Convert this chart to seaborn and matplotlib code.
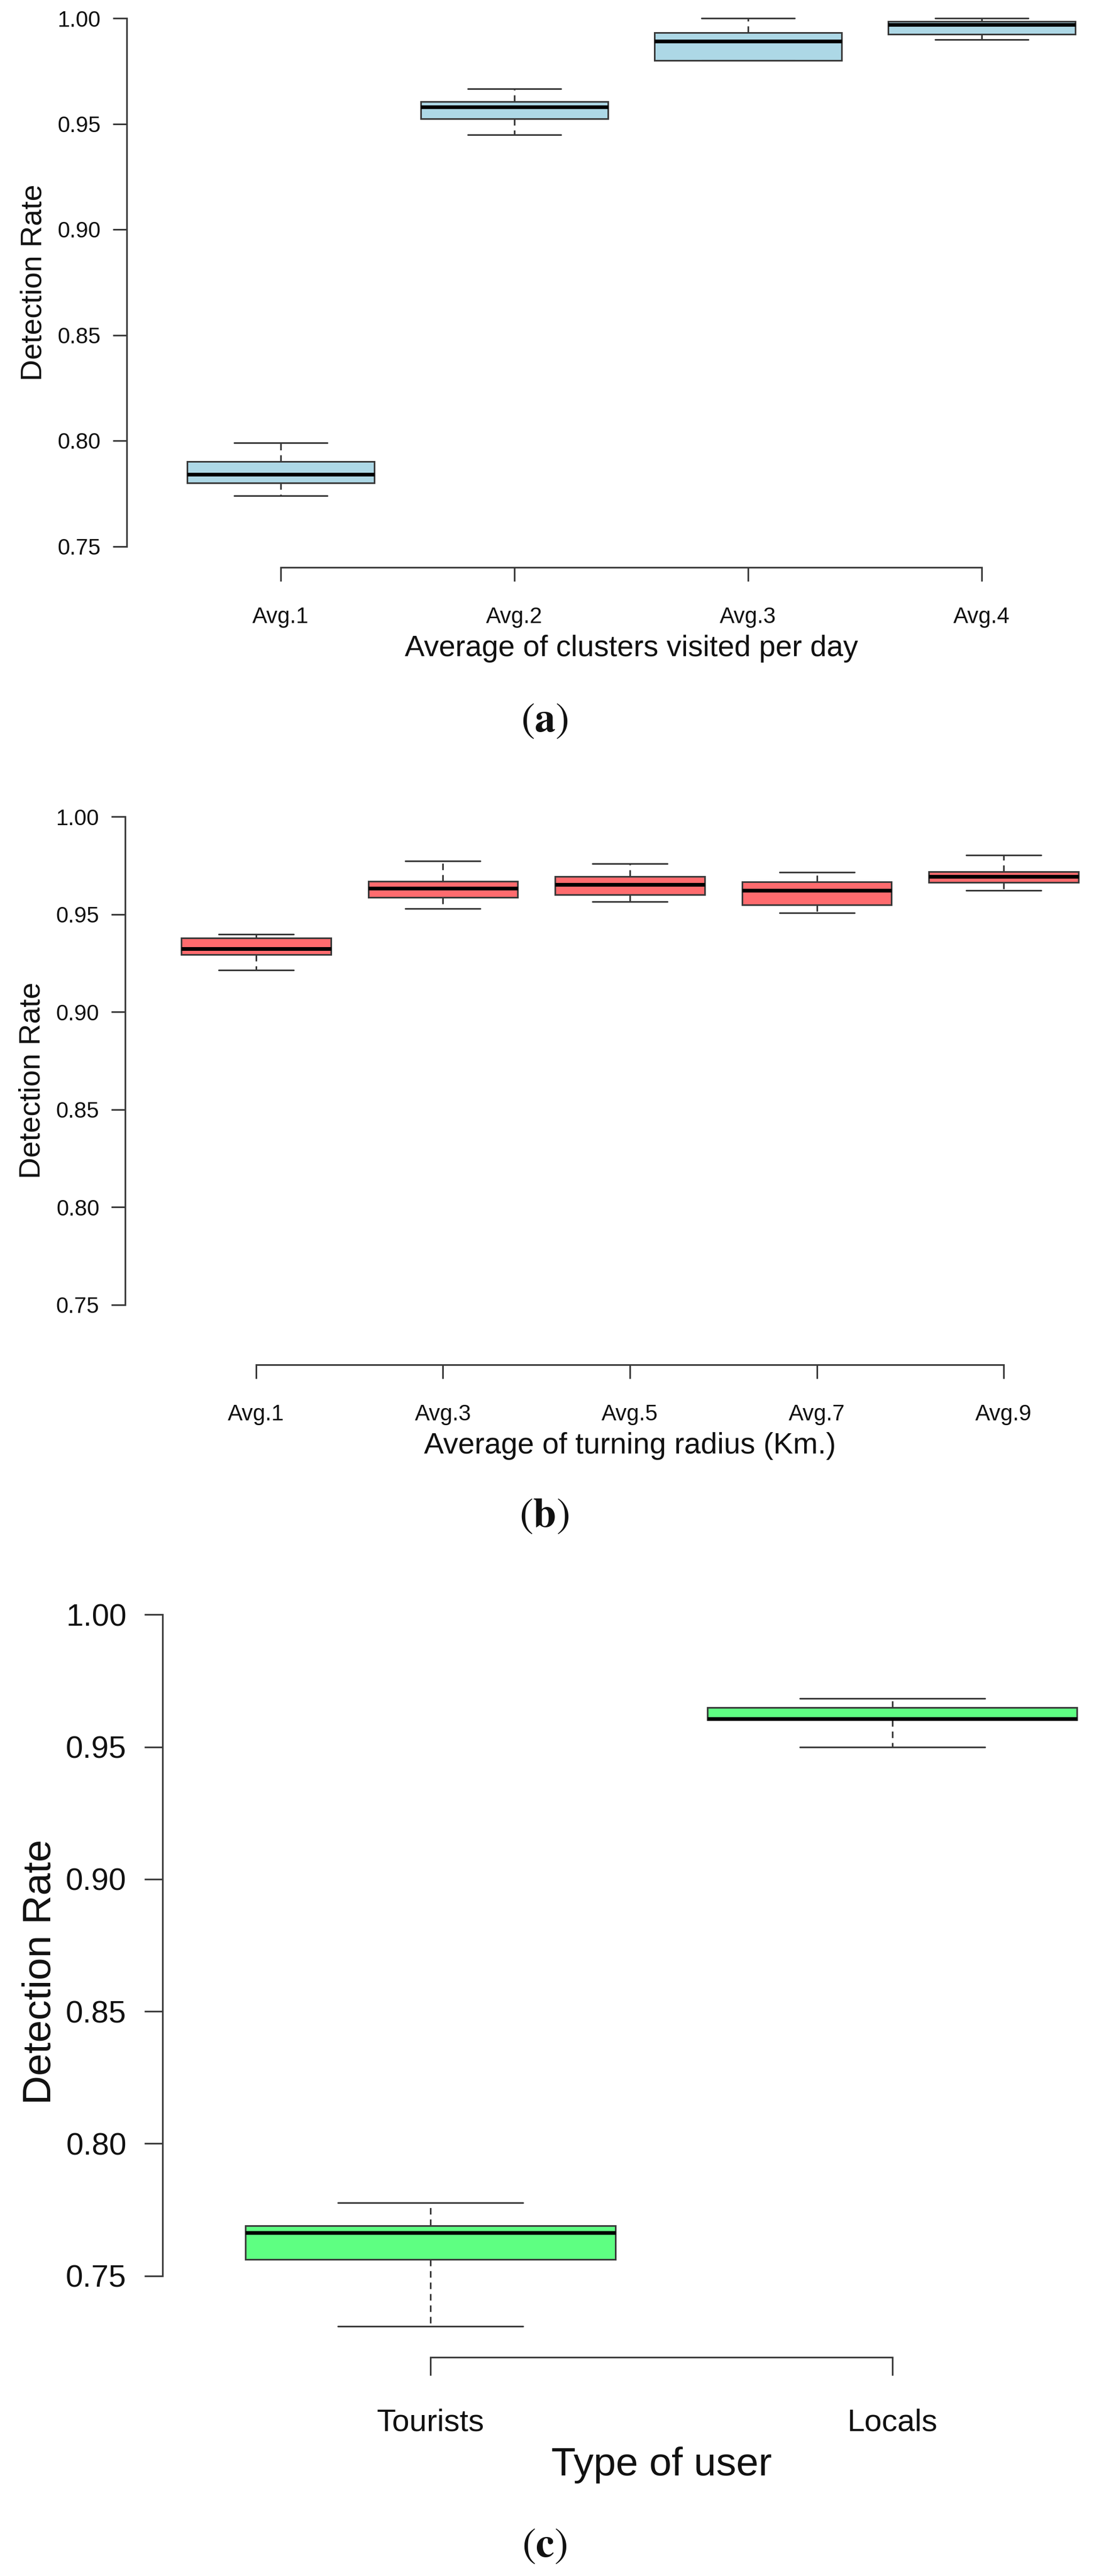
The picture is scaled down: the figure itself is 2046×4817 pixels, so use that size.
import numpy as np
import pandas as pd
import matplotlib
matplotlib.use('Agg')
import matplotlib.pyplot as plt
import seaborn as sns

# five-number summaries: min, q1, median, q3, max
clusters = ['Avg.1', 'Avg.2', 'Avg.3', 'Avg.4']
clusters_min = [0.774, 0.9447, 0.9799, 0.9900]
clusters_q1 = [0.780, 0.9524, 0.9800, 0.9923]
clusters_med = [0.784, 0.9580, 0.9890, 0.9970]
clusters_q3 = [0.790, 0.9605, 0.9932, 0.9986]
clusters_max = [0.799, 0.9666, 1.0000, 1.0000]

radius = ['Avg.1', 'Avg.3', 'Avg.5', 'Avg.7', 'Avg.9']
radius_min = [0.9214, 0.9530, 0.9566, 0.9507, 0.9623]
radius_q1 = [0.9295, 0.9586, 0.9600, 0.9550, 0.9664]
radius_med = [0.9323, 0.9634, 0.9652, 0.9623, 0.9695]
radius_q3 = [0.9380, 0.9670, 0.9695, 0.9668, 0.9718]
radius_max = [0.9398, 0.9775, 0.9759, 0.9716, 0.9805]

users = ['Tourists', 'Locals']
users_min = [0.7309, 0.9500]
users_q1 = [0.7563, 0.9602]
users_med = [0.7664, 0.9607]
users_q3 = [0.7689, 0.9648]
users_max = [0.7776, 0.9683]

W, H = 2046, 4817
LINE = '#3a3a3a'


def long_frame(names, *stats):
    rows = []
    for i, name in enumerate(names):
        for s in stats:
            rows.append((name, s[i]))
    return pd.DataFrame(rows, columns=['group', 'rate'])


def rect(x0, x1, ytop, ybot):
    return [x0 / W, 1 - ybot / H, (x1 - x0) / W, (ybot - ytop) / H]


def draw_panel(ax, df, order, color, xlim, ylim, xlabel, tick_fs, label_fs,
               tick_len, ypad, xpad, xlabelpad, ylabelpad):
    sns.boxplot(data=df, x='group', y='rate', order=order, color=color,
                saturation=1, width=0.8, whis=(0, 100), linewidth=2.2,
                linecolor=LINE,
                whiskerprops=dict(linestyle=(0, (4, 3))),
                medianprops=dict(color='black', linewidth=5),
                ax=ax)
    ax.set_xlim(*xlim)
    ax.set_ylim(*ylim)
    ax.set_yticks([0.75, 0.80, 0.85, 0.90, 0.95, 1.00])
    ax.set_yticklabels(['0.75', '0.80', '0.85', '0.90', '0.95', '1.00'])
    ax.set_xticks(range(len(order)))
    ax.set_xticklabels(order)
    for side in ['top', 'right']:
        ax.spines[side].set_visible(False)
    ax.spines['left'].set_bounds(0.75, 1.00)
    ax.spines['bottom'].set_bounds(0, len(order) - 1)
    for side in ['left', 'bottom']:
        ax.spines[side].set_color(LINE)
        ax.spines[side].set_linewidth(2.2)
    ax.tick_params(axis='both', direction='out', length=tick_len, width=2.2,
                   color=LINE, labelsize=tick_fs, labelcolor='#111111')
    ax.tick_params(axis='y', pad=ypad)
    ax.tick_params(axis='x', pad=xpad)
    ax.set_xlabel(xlabel, fontsize=label_fs, labelpad=xlabelpad, color='#111111')
    ax.set_ylabel('Detection Rate', fontsize=label_fs, labelpad=ylabelpad,
                  color='#111111')
    ax.patch.set_alpha(0)


sns.set_style('ticks')
plt.rcParams['font.family'] = ['Liberation Sans', 'DejaVu Sans']
plt.rcParams['mathtext.fontset'] = 'stix'

fig = plt.figure(figsize=(W / 100, H / 100), dpi=100)
fig.patch.set_facecolor('white')

ax_a = fig.add_axes(rect(236.6, 2124.4, -5.5, 1061))
draw_panel(ax_a, long_frame(clusters, clusters_min, clusters_q1, clusters_med,
                            clusters_q3, clusters_max),
           clusters, '#ADD8E6', (-0.66, 3.66), (0.74, 1.01),
           'Average of clusters visited per day', 30, 40, 18.7, 16, 34, 9, 13)

ax_b = fig.add_axes(rect(234, 2122, 1488, 2552))
draw_panel(ax_b, long_frame(radius, radius_min, radius_q1, radius_med,
                            radius_q3, radius_max),
           radius, '#FF6B6E', (-0.7, 4.7), (0.7192, 1.0108),
           'Average of turning radius (Km.)', 30, 40, 18.7, 16, 34, 9, 13)

ax_c = fig.add_axes(rect(304, 2170, 2966, 4408))
draw_panel(ax_c, long_frame(users, users_min, users_q1, users_med,
                            users_q3, users_max),
           users, '#5EFF82', (-0.58, 1.58), (0.7192, 1.0108),
           'Type of user', 42, 54, 24.5, 24, 44, 12.6, 10)

for label, y in [('a', 1348), ('b', 2835), ('c', 4761)]:
    fig.text(1018 / W, 1 - y / H, r'$(\mathbf{' + label + r'})$',
             ha='center', va='center', fontsize=56, color='#111111')

fig.savefig('out.png', dpi=100, facecolor='white')
